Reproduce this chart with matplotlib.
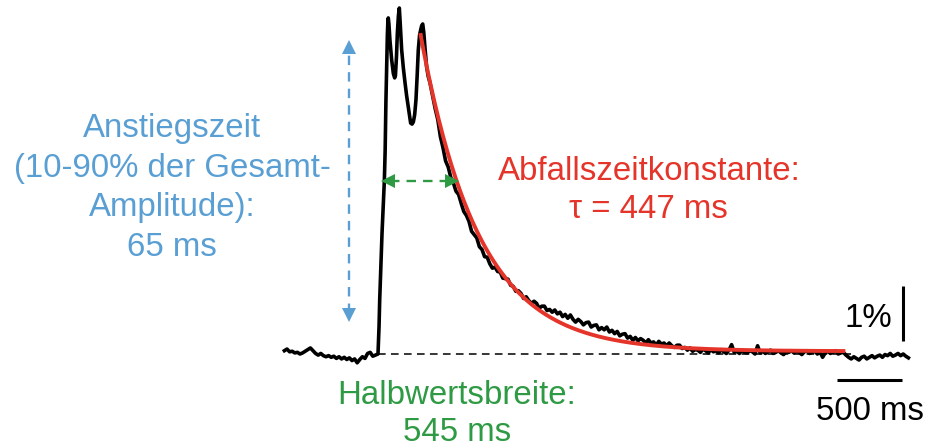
import numpy as np
import matplotlib.pyplot as plt

plt.rcParams["font.family"] = ["Liberation Sans", "DejaVu Sans"]

BLUE = "#5a9fd4"
RED = "#e5352a"
GREEN = "#2f9a44"

# pre-stimulus baseline, % dF/F, sampled every 20 ms from -720 ms to -20 ms
baseline_pct = [
    0.06, 0.09, 0.04, 0.05, 0.02, 0.03, 0.00, 0.02, 0.05, 0.08,
    0.11, 0.06, 0.01, -0.02, 0.01, -0.03, -0.05, -0.03, -0.06, -0.04,
    -0.08, -0.05, -0.09, -0.06, -0.10, -0.07, -0.12, -0.09, -0.16, -0.10,
    -0.05, -0.08, 0.01, 0.03, -0.04, -0.02,
]

# rising phase and the three peaks (irregular sampling)
event_ms = [
    0, 8, 13, 22, 31, 40, 49, 55, 61, 67, 72, 76, 79, 84, 92, 105, 118, 128,
    134, 142, 149, 157, 164, 170, 182, 195, 208, 220, 233, 245, 251, 262,
    272, 282, 292, 301, 310, 320, 328, 336, 344, 352, 362, 374, 386,
]
event_pct = [
    0.00, 0.50, 0.98, 1.60, 2.20, 2.70, 3.16, 3.70, 4.60, 5.30, 5.80, 6.05,
    6.11, 6.00, 5.70, 5.35, 5.10, 5.02, 5.06, 5.40, 5.84, 6.15, 6.29, 6.05,
    5.53, 5.20, 4.93, 4.70, 4.49, 4.30, 4.20, 4.18, 4.22, 4.35, 4.62, 5.05,
    5.53, 5.80, 5.89, 5.97, 6.00, 5.85, 5.55, 5.22, 5.05,
]

# decay, sampled every 20 ms from 400 ms to 4080 ms
decay_pct = [
    4.93, 4.70, 4.46, 4.26, 3.95, 3.75, 3.51, 3.40, 3.21, 3.11,
    2.96, 2.90, 2.74, 2.59, 2.52, 2.41, 2.23, 2.17, 2.11, 1.95,
    1.90, 1.77, 1.76, 1.64, 1.56, 1.58, 1.50, 1.49, 1.38, 1.37,
    1.36, 1.25, 1.23, 1.14, 1.15, 1.10, 1.01, 1.04, 0.97, 0.92,
    0.96, 0.92, 0.83, 0.87, 0.87, 0.79, 0.81, 0.76, 0.80, 0.73,
    0.76, 0.68, 0.72, 0.65, 0.71, 0.63, 0.58, 0.63, 0.59, 0.53,
    0.57, 0.58, 0.49, 0.52, 0.53, 0.44, 0.48, 0.44, 0.49, 0.40,
    0.43, 0.37, 0.41, 0.33, 0.36, 0.37, 0.29, 0.32, 0.25, 0.30,
    0.24, 0.28, 0.25, 0.20, 0.26, 0.20, 0.22, 0.16, 0.23, 0.18,
    0.20, 0.15, 0.20, 0.15, 0.12, 0.16, 0.16, 0.10, 0.12, 0.07,
    0.11, 0.05, 0.08, 0.07, 0.03, 0.09, 0.06, 0.02, 0.08, 0.04,
    0.06, 0.02, 0.08, 0.04, 0.01, 0.07, 0.17, 0.03, 0.05, 0.01,
    0.07, 0.03, 0.02, 0.06, 0.04, 0.00, 0.15, 0.02, 0.05, 0.01,
    0.04, 0.07, 0.01, 0.03, 0.06, 0.02, -0.01, 0.05, 0.03, 0.06,
    0.02, 0.05, 0.03, -0.01, 0.04, 0.06, 0.01, 0.03, 0.05, 0.00,
    0.04, -0.06, 0.02, 0.05, 0.01, 0.03, 0.06, 0.00, 0.02, 0.03,
    -0.02, -0.06, -0.09, -0.05, -0.08, -0.11, -0.06, -0.04, -0.09, -0.06,
    -0.03, -0.07, -0.04, -0.02, -0.06, -0.01, -0.03, 0.01, -0.04, -0.02,
    0.01, -0.03, 0.00, -0.04, -0.07,
]

# mono-exponential fit of the decay
tau_ms = 447
fit_start_ms = 328
fit_end_ms = 3580
fit_amp = 5.75
fit_offset = 0.05

rise_time_ms = 65
half_width_ms = 545
half_width_start_ms = 50

t = np.concatenate([
    np.arange(-720, 0, 20),
    np.array(event_ms),
    np.arange(400, 4081, 20),
])
trace = np.concatenate([baseline_pct, event_pct, decay_pct])
peak = max(event_pct)

t_fit = np.linspace(fit_start_ms, fit_end_ms, 400)
fit = fit_offset + fit_amp * np.exp(-(t_fit - fit_start_ms) / tau_ms)

W, H = 929, 448
fig = plt.figure(figsize=(W / 100, H / 100), dpi=100)
ax = fig.add_axes([0, 0, 1, 1])
ms_per_px = 500 / 65
pct_per_px = 1 / 55
ax.set_xlim(-378 * ms_per_px, (W - 378) * ms_per_px)
ax.set_ylim(-(H - 354) * pct_per_px, 354 * pct_per_px)
ax.axis("off")

# baseline
ax.plot([0, 3640], [0, 0], color="black", lw=1.1, ls=(0, (5, 3.5)), zorder=1)

ax.plot(t, trace, color="black", lw=2.6, solid_joinstyle="round", zorder=3)
ax.plot(t_fit, fit, color=RED, lw=2.8, zorder=4)

# rise time: 10 % to 90 % of the peak
x_rise = -223
y_lo, y_hi = 0.1 * peak, 0.9 * peak
ax.plot([x_rise, x_rise], [y_lo + 0.12, y_hi - 0.12], color=BLUE, lw=1.7,
        ls=(0, (4, 3)), zorder=2)
ax.plot(x_rise, y_hi - 0.08, marker="^", ms=10, color=BLUE, mew=0, zorder=2)
ax.plot(x_rise, y_lo + 0.08, marker="v", ms=10, color=BLUE, mew=0, zorder=2)

# half width at half of the peak
y_half = peak / 2
x0, x1 = half_width_start_ms, half_width_start_ms + half_width_ms
ax.plot([x0 + 40, x1 - 40], [y_half, y_half], color=GREEN, lw=1.7,
        ls=(0, (4, 3)), zorder=2)
ax.plot(x0 + 28, y_half, marker="<", ms=10, color=GREEN, mew=0, zorder=5)
ax.plot(x1 - 28, y_half, marker=">", ms=10, color=GREEN, mew=0, zorder=5)

# scale bars: 1 % and 500 ms
ax.plot([4038, 4038], [0.24, 1.24], color="black", lw=2.2, solid_capstyle="butt")
ax.plot([3530, 4030], [-0.47, -0.47], color="black", lw=2.2, solid_capstyle="butt")


def label(x, y, s, color, ha="center"):
    fig.text(x / W, 1 - y / H, s, color=color, fontsize=23.8, ha=ha, va="baseline")


for y, s in zip([137, 177, 216, 256],
                ["Anstiegszeit", "(10-90% der Gesamt-", "Amplitude):",
                 f"{rise_time_ms} ms"]):
    label(172, y, s, BLUE)

label(649, 180, "Abfallszeitkonstante:", RED)
label(648, 218, f"\u03c4 = {tau_ms} ms", RED)
label(457, 404, "Halbwertsbreite:", GREEN)
label(457, 441, f"{half_width_ms} ms", GREEN)
label(892, 327, "1%", "black", ha="right")
label(870, 420, "500 ms", "black")

fig.savefig("out.png", dpi=100)
